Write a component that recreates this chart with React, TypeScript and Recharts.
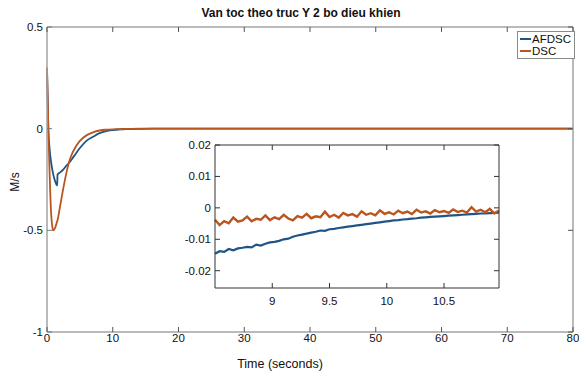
import React from 'react';
import { LineChart, Line, XAxis, YAxis } from 'recharts';

// main plot: time (s) and velocity (m/s) for both controllers
const mainTime = [0, 0.1, 0.2, 0.4, 0.6, 0.8, 0.95, 1.2, 1.55, 1.6, 2, 2.5, 3, 3.3, 4, 5, 6, 7, 8, 9, 10, 11, 12, 14, 16, 20, 30, 40, 50, 60, 70, 80];
const afdscMain = [0.3, 0.15, 0.0, -0.1, -0.16, -0.2, -0.225, -0.255, -0.28, -0.225, -0.215, -0.2, -0.18, -0.17, -0.14, -0.095, -0.06, -0.04, -0.022, -0.012, -0.007, -0.004, -0.002, -0.001, 0, 0, 0, 0, 0, 0, 0, 0];
const dscMain = [0.3, 0.15, 0.0, -0.22, -0.4, -0.48, -0.5, -0.49, -0.455, -0.45, -0.38, -0.29, -0.21, -0.17, -0.11, -0.06, -0.033, -0.018, -0.009, -0.005, -0.003, -0.002, -0.001, -0.0005, 0, 0, 0, 0, 0, 0, 0, 0];

const mainXTicks = [0, 10, 20, 30, 40, 50, 60, 70, 80];
const mainYTicks = [-1, -0.5, 0, 0.5];

// zoomed inset 8.5 .. 11 s
const insetTime = [8.5, 8.54, 8.58, 8.62, 8.66, 8.7, 8.74, 8.78, 8.82, 8.86, 8.9, 8.94, 8.98, 9.02, 9.06, 9.1, 9.14, 9.18, 9.22, 9.26, 9.3, 9.34, 9.38, 9.42, 9.46, 9.5, 9.54, 9.58, 9.62, 9.66, 9.7, 9.74, 9.78, 9.82, 9.86, 9.9, 9.94, 9.98, 10.02, 10.06, 10.1, 10.14, 10.18, 10.22, 10.26, 10.3, 10.34, 10.38, 10.42, 10.46, 10.5, 10.54, 10.58, 10.62, 10.66, 10.7, 10.74, 10.78, 10.82, 10.86, 10.9, 10.94, 10.98];
const afdscInset = [-0.0146, -0.0138, -0.0140, -0.0131, -0.0135, -0.0129, -0.0127, -0.0124, -0.0126, -0.0117, -0.0120, -0.0114, -0.0110, -0.0108, -0.0105, -0.0100, -0.0098, -0.0092, -0.0088, -0.0085, -0.0082, -0.0079, -0.0076, -0.0072, -0.0073, -0.0068, -0.0067, -0.0064, -0.0062, -0.0060, -0.0058, -0.0056, -0.0054, -0.0052, -0.0050, -0.0048, -0.0046, -0.0044, -0.0042, -0.0040, -0.0039, -0.0037, -0.0036, -0.0034, -0.0033, -0.0031, -0.0030, -0.0029, -0.0028, -0.0027, -0.0026, -0.0025, -0.0024, -0.0023, -0.0022, -0.0021, -0.0020, -0.0019, -0.0018, -0.0018, -0.0017, -0.0016, -0.0015];
const dscInset = [-0.0038, -0.0055, -0.0042, -0.0049, -0.0031, -0.0044, -0.004, -0.0028, -0.0043, -0.0035, -0.0038, -0.0024, -0.0039, -0.003, -0.0036, -0.0022, -0.0034, -0.004, -0.0026, -0.0031, -0.0019, -0.0033, -0.0027, -0.003, -0.0012, -0.0029, -0.0022, -0.0031, -0.0016, -0.0024, -0.002, -0.0028, -0.0011, -0.0022, -0.0017, -0.0024, -0.0008, -0.0019, -0.0014, -0.0021, -0.0009, -0.0017, -0.0012, -0.002, -0.0006, -0.0015, -0.0011, -0.0018, -0.0007, -0.0014, -0.001, -0.0016, -0.0005, -0.0013, -0.0009, -0.0015, 0.0002, -0.0012, -0.0006, -0.0014, -0.0003, -0.0018, -0.0008];

const insetXTicks = [9, 9.5, 10, 10.5];
const insetYTicks = [-0.02, -0.01, 0, 0.01, 0.02];

const seriesNames = ['AFDSC', 'DSC'];

const BLUE = '#1f5586';
const ORANGE = '#b9561f';
const seriesColors = [BLUE, ORANGE];
const FONT = '"Liberation Sans", Arial, Helvetica, sans-serif';

const mainData = mainTime.map((t, i) => ({ t, afdsc: afdscMain[i], dsc: dscMain[i] }));
const insetData = insetTime.map((t, i) => ({ t, afdsc: afdscInset[i], dsc: dscInset[i] }));

// MATLAB style ticks point into the box
const makeTick = (side: string, tickColor: string, labelDy: number, show: boolean) => (props: any) => {
  const { x, y, payload } = props;
  const len = 5;
  let line;
  if (side === 'bottom') line = { x1: x, x2: x, y1: y, y2: y - len };
  else if (side === 'top') line = { x1: x, x2: x, y1: y, y2: y + len };
  else if (side === 'left') line = { x1: x, x2: x + len, y1: y, y2: y };
  else line = { x1: x, x2: x - len, y1: y, y2: y };
  return (
    <g>
      <line {...line} stroke={tickColor} strokeWidth={1} />
      {show && side === 'bottom' && (
        <text x={x} y={y + labelDy} textAnchor="middle" fontSize={11.5} fill="#111" fontFamily={FONT}>
          {payload.value}
        </text>
      )}
      {show && side === 'left' && (
        <text x={x - 4} y={y + 4} textAnchor="end" fontSize={11.5} fill="#111" fontFamily={FONT}>
          {payload.value}
        </text>
      )}
    </g>
  );
};

export default function App() {
  const frame = { stroke: '#a3a3a3', strokeWidth: 1.5 };
  const insetFrame = { stroke: '#333', strokeWidth: 1 };
  return (
    <div style={{ position: 'absolute', left: 0, top: 0, width: 579, height: 381, background: '#fff', fontFamily: FONT }}>
      <div style={{ position: 'absolute', left: 151, top: 5, width: 300, textAlign: 'center', fontWeight: 'bold', fontSize: 12, lineHeight: '16px', color: '#111' }}>
        Van toc theo truc Y 2 bo dieu khien
      </div>
      <LineChart width={579} height={381} data={mainData} margin={{ top: 26, right: 5, left: 0, bottom: 0 }}>
        <XAxis dataKey="t" type="number" domain={[0, 80]} ticks={mainXTicks} interval={0} height={49}
          tickLine={false} tickSize={0} tickMargin={0} axisLine={frame} tick={makeTick('bottom', '#555', 9.5, true)} />
        <XAxis xAxisId="top" orientation="top" dataKey="t" type="number" domain={[0, 80]} ticks={mainXTicks} interval={0} height={1}
          tickLine={false} tickSize={0} tickMargin={0} axisLine={frame} tick={makeTick('top', '#555', 0, false)} />
        <YAxis type="number" domain={[-1, 0.5]} ticks={mainYTicks} interval={0} width={47}
          tickLine={false} tickSize={0} tickMargin={0} axisLine={frame} tick={makeTick('left', '#777', 0, true)} />
        <YAxis yAxisId="right" orientation="right" type="number" domain={[-1, 0.5]} ticks={mainYTicks} interval={0} width={1}
          tickLine={false} tickSize={0} tickMargin={0} axisLine={frame} tick={makeTick('right', '#555', 0, false)} />
        {/* invisible twin so the top and right box axes get drawn */}
        <Line xAxisId="top" yAxisId="right" dataKey="dsc" stroke="transparent" strokeWidth={0} dot={false} activeDot={false} legendType="none" isAnimationActive={false} />
        <Line name="AFDSC" dataKey="afdsc" type="monotone" stroke={BLUE} strokeWidth={1.8} dot={false} isAnimationActive={false} />
        <Line name="DSC" dataKey="dsc" type="monotone" stroke={ORANGE} strokeWidth={1.8} dot={false} isAnimationActive={false} />
      </LineChart>
      <div style={{ position: 'absolute', left: 517, top: 31, border: '1px solid #8a8a8a', background: '#fff', padding: '1px 3px 1px 2px', fontSize: 11.5, lineHeight: '12px' }}>
        {seriesNames.map((n, i) => (
          <div key={n} style={{ display: 'flex', alignItems: 'center' }}>
            <span style={{ display: 'inline-block', width: 11, height: 2, background: seriesColors[i], marginRight: 1 }} />
            <span style={{ color: '#111' }}>{n}</span>
          </div>
        ))}
      </div>
      <div style={{ position: 'absolute', left: 0, top: 173, width: 30, height: 18, display: 'flex', alignItems: 'center', justifyContent: 'center' }}>
        <div style={{ transform: 'rotate(-90deg)', fontSize: 12, color: '#111', whiteSpace: 'nowrap' }}>M/s</div>
      </div>
      <div style={{ position: 'absolute', left: 180, top: 356, width: 200, textAlign: 'center', fontSize: 12.5, lineHeight: '16px', color: '#111' }}>
        Time (seconds)
      </div>
      <div style={{ position: 'absolute', left: 160, top: 135 }}>
        <LineChart width={345} height={180} data={insetData} margin={{ top: 9, right: 5, left: 0, bottom: 0 }}>
          <XAxis dataKey="t" type="number" domain={[8.5, 10.98]} ticks={insetXTicks} interval={0} height={27}
            tickLine={false} tickSize={0} tickMargin={0} axisLine={insetFrame} tick={makeTick('bottom', '#333', 16.5, true)} />
          <XAxis xAxisId="top" orientation="top" dataKey="t" type="number" domain={[8.5, 10.98]} ticks={insetXTicks} interval={0} height={1}
            tickLine={false} tickSize={0} tickMargin={0} axisLine={insetFrame} tick={makeTick('top', '#333', 0, false)} />
          <YAxis type="number" domain={[-0.0255, 0.02]} ticks={insetYTicks} interval={0} width={55} allowDataOverflow
            tickLine={false} tickSize={0} tickMargin={0} axisLine={insetFrame} tick={makeTick('left', '#333', 0, true)} />
          <YAxis yAxisId="right" orientation="right" type="number" domain={[-0.0255, 0.02]} ticks={insetYTicks} interval={0} width={1} allowDataOverflow
            tickLine={false} tickSize={0} tickMargin={0} axisLine={insetFrame} tick={makeTick('right', '#333', 0, false)} />
          <Line xAxisId="top" yAxisId="right" dataKey="dsc" stroke="transparent" strokeWidth={0} dot={false} activeDot={false} legendType="none" isAnimationActive={false} />
          <Line dataKey="afdsc" type="linear" stroke={BLUE} strokeWidth={2.2} dot={false} isAnimationActive={false} />
          <Line dataKey="dsc" type="linear" stroke={ORANGE} strokeWidth={2.4} dot={false} isAnimationActive={false} />
        </LineChart>
      </div>
    </div>
  );
}
